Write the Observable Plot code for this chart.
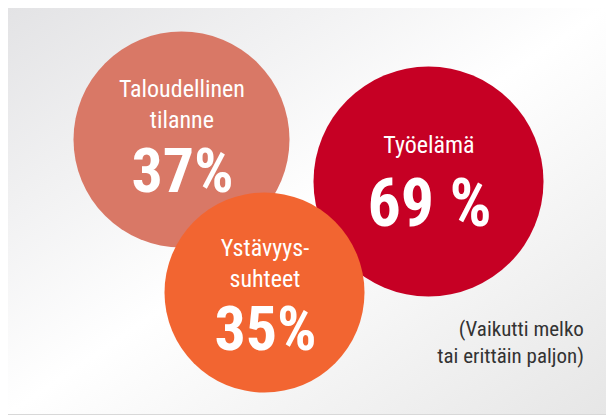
<!DOCTYPE html>
<html>
<head>
<meta charset="utf-8">
<script src="https://cdn.jsdelivr.net/npm/d3@7"></script>
<script src="https://cdn.jsdelivr.net/npm/@observablehq/plot@0.6"></script>
<style>
  html, body { margin: 0; padding: 0; background: #fff; }
  #chart svg { display: block; }
  g[aria-label="labels"] text { letter-spacing: 0.7px; }
  g[aria-label="values"] text { letter-spacing: 2px; }
  g[aria-label="note"] text { letter-spacing: 1.4px; }
</style>
</head>
<body>
<div id="chart"></div>
<script>
// Data
const categories = ["Taloudellinen\ntilanne", "Ystävyys-\nsuhteet", "Työelämä"];
const values = [37, 35, 69];
const valueLabels = ["37%", "35%", "69 %"];
const note = "(Vaikutti melko\ntai erittäin paljon)";

// Layout (bubble positions and sizes in layout units)
const cx = [181, 264, 428];
const cy = [139, 292, 181];
const radius = [108, 100, 115];
const colors = ["#d97866", "#f26531", "#c60024"];

const W = 606, H = 417;
const bubbles = categories.map((c, i) => ({
  category: c, value: values[i], label: valueLabels[i],
  x: cx[i], y: cy[i], r: radius[i], color: colors[i]
}));

const font = "'Roboto Condensed', 'Liberation Sans Narrow', 'DejaVu Sans Condensed', 'Roboto', sans-serif";

const defs = () => {
  const svgNS = "http://www.w3.org/2000/svg";
  const d = document.createElementNS(svgNS, "defs");
  d.innerHTML = `<linearGradient id="bg" x1="0" y1="0" x2="1" y2="1">
      <stop offset="0" stop-color="#e3e3e5"/>
      <stop offset="0.5" stop-color="#ffffff"/>
      <stop offset="1" stop-color="#e6e6e6"/>
    </linearGradient>`;
  return d;
};

const panel = [{x1: 8, x2: W, y1: 8, y2: 414}];

const chart = Plot.plot({
  width: W,
  height: H,
  margin: 0,
  style: {fontFamily: font, background: "#fff"},
  x: {domain: [0, W], range: [0, W], axis: null},
  y: {domain: [0, H], range: [0, H], axis: null},
  r: {type: "identity"},
  marks: [
    defs,
    Plot.rect(panel, {x1: "x1", x2: "x2", y1: "y1", y2: "y2", fill: "url(#bg)"}),
    Plot.ruleY([414], {x1: 8, x2: W, stroke: "#d8d8d8", strokeWidth: 1}),
    Plot.dot(bubbles, {x: "x", y: "y", r: "r", fill: "color", stroke: "none"}),
    Plot.text(bubbles, {
      ariaLabel: "labels",
      x: "x",
      y: (d, i) => [127, 286, 152][i],
      dx: 0.4,
      text: "category",
      fill: "white",
      fontSize: 24,
      lineHeight: 1.27,
      lineAnchor: "bottom",
      textAnchor: "middle"
    }),
    Plot.text(bubbles, {
      ariaLabel: "values",
      x: (d, i) => [181, 264, 428][i],
      y: (d, i) => [191, 349, 225][i],
      dx: 1,
      text: "label",
      fill: "white",
      fontSize: (d, i) => [62, 62, 66][i],
      fontWeight: "bold",
      lineAnchor: "bottom",
      textAnchor: "middle"
    }),
    Plot.text([note], {
      ariaLabel: "note",
      x: 582, y: 362,
      dx: 1.4,
      text: d => d,
      fill: "#333",
      fontSize: 21,
      lineHeight: 1.26,
      lineAnchor: "bottom",
      textAnchor: "end"
    })
  ]
});
document.getElementById("chart").append(chart);
</script>
</body>
</html>
